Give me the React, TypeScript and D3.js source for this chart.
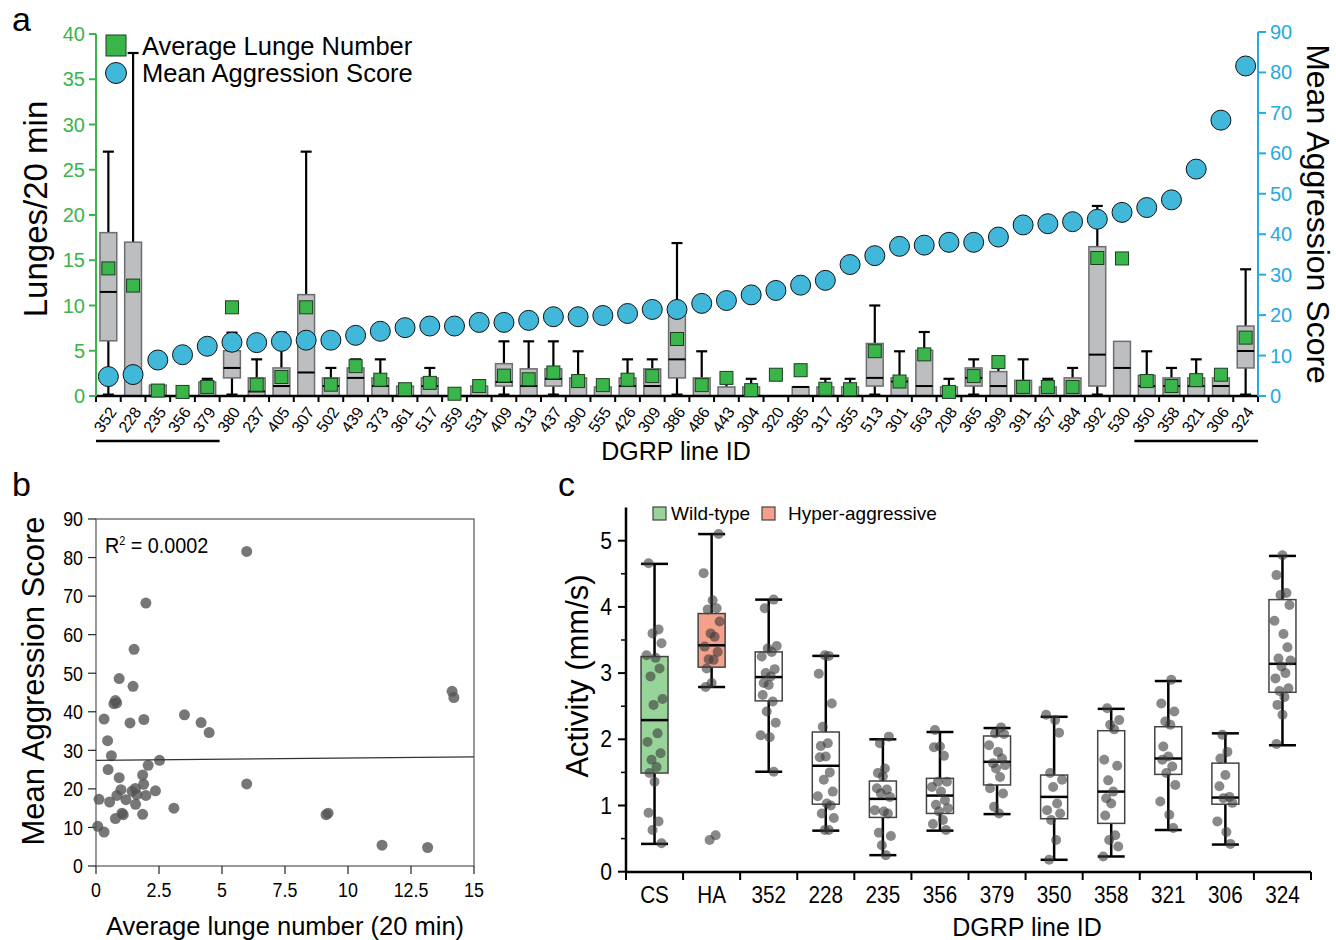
import React from 'react';
import * as d3 from 'd3';

// ---------- panel a: DGRP lines ----------
const lineIds = ['352', '228', '235', '356', '379', '380', '237', '405', '307', '502', '439', '373', '361', '517', '359', '531', '409', '313', '437', '390', '555', '426', '309', '386', '486', '443', '304', '320', '385', '317', '355', '513', '301', '563', '208', '365', '399', '391', '357', '584', '392', '530', '350', '358', '321', '306', '324'];
const avgLunge = [14.1, 12.2, 0.6, 0.45, 1.0, 9.8, 1.25, 2.1, 9.8, 1.25, 3.3, 1.8, 0.75, 1.45, 0.25, 1.1, 2.25, 1.85, 2.6, 1.65, 1.2, 1.8, 2.2, 6.3, 1.2, 2.0, 0.65, 2.35, 2.85, 0.8, 0.75, 4.95, 1.6, 4.6, 0.45, 2.2, 3.75, 1.0, 1.0, 1.0, 15.25, 15.2, 1.65, 1.1, 1.75, 2.35, 6.45];
const aggScore = [4.8, 5.3, 8.9, 10.2, 12.3, 13.3, 13.2, 13.5, 13.8, 13.8, 15.0, 16.0, 16.9, 17.3, 17.3, 18.2, 18.2, 18.7, 19.6, 19.6, 19.9, 20.4, 21.4, 21.4, 22.9, 23.6, 25.0, 26.1, 27.4, 28.6, 32.5, 34.7, 37.0, 37.3, 38.0, 38.0, 39.3, 42.3, 42.6, 43.1, 43.7, 45.4, 46.6, 48.5, 56.1, 68.2, 81.6];
const lungeMin = new Array(47).fill(0);
const lungeQ1 = [6.1, 0, 0, 0, 0, 2.0, 0, 0, 0, 0, 0, 0, 0, 0, 0, 0, 1.1, 0, 1.1, 0, 0, 0, 0, 2.0, 0, 0, 0, 0, 0, 0, 0, 1.1, 0, 0, 0, 1.1, 0, 0, 0, 0, 1.1, 0, 0, 0, 0, 0, 3.1];
const lungeMed = [11.5, 0, 0, 0, 0, 3.1, 0.5, 1.1, 2.6, 1.1, 2.0, 1.1, 0, 1.1, 0, 0, 1.55, 1.1, 1.9, 0, 0, 1.1, 1.1, 4.05, 0, 0, 0, 0, 1.0, 0, 0, 2.0, 1.6, 1.1, 0, 2.0, 1.1, 0, 0, 0, 4.57, 3.1, 1.1, 1.1, 1.1, 1.1, 4.97];
const lungeQ3 = [18.05, 17.0, 1.2, 0, 1.55, 5.0, 2.0, 3.1, 11.2, 2.0, 3.1, 2.0, 1.1, 2.0, 0, 1.1, 3.57, 3.0, 3.0, 2.0, 1.0, 2.0, 3.0, 9.76, 2.0, 1.0, 1.0, 0, 1.0, 1.0, 1.0, 5.8, 2.0, 5.05, 1.0, 3.1, 2.7, 1.73, 1.0, 2.0, 16.5, 6.04, 2.28, 2.0, 2.0, 2.0, 7.73];
const lungeMax = [27.0, 37.9, 1.2, 0, 1.9, 7.0, 4.05, 7.0, 27.0, 3.1, 4.05, 4.05, 1.1, 3.1, 0, 1.1, 6.04, 6.04, 6.04, 4.94, 1.0, 4.05, 4.05, 16.9, 4.94, 1.5, 1.9, 0, 1.0, 1.9, 1.9, 10.0, 4.94, 7.07, 1.9, 4.05, 3.1, 4.05, 1.9, 3.1, 21.0, 6.04, 4.94, 3.1, 4.05, 2.0, 14.0];
const lungeTicks = [0, 5, 10, 15, 20, 25, 30, 35, 40];
const scoreTicks = [0, 10, 20, 30, 40, 50, 60, 70, 80, 90];

// ---------- panel b: scatter ----------
const scatterLunge = [5.98, 1.98, 1.51, 0.92, 1.47, 0.77, 0.82, 0.71, 0.32, 1.90, 1.35, 3.51, 4.17, 4.49, 0.46, 0.61, 2.52, 0.48, 2.07, 0.92, 1.85, 1.89, 0.99, 1.43, 1.56, 1.62, 0.83, 1.98, 2.36, 0.12, 0.54, 1.19, 1.57, 3.09, 1.03, 1.08, 0.77, 1.85, 0.07, 0.32, 5.98, 9.13, 9.21, 11.35, 13.16, 14.13, 14.2];
const scatterScore = [81.6, 68.2, 56.2, 48.6, 46.6, 42.9, 42.3, 42.1, 38.1, 38.0, 37.1, 39.2, 37.2, 34.6, 32.5, 28.6, 27.4, 25.0, 26.1, 22.9, 23.6, 21.2, 19.8, 19.4, 20.1, 18.5, 18.3, 18.3, 19.5, 17.3, 16.6, 17.2, 16.0, 15.0, 13.7, 13.3, 12.3, 13.4, 10.3, 8.8, 21.3, 13.3, 13.7, 5.4, 4.8, 45.3, 43.7];
const fitIntercept = 27.4;
const fitSlope = 0.06;
const bXTicks = [0, 2.5, 5, 7.5, 10, 12.5, 15];
const bYTicks = [0, 10, 20, 30, 40, 50, 60, 70, 80, 90];

// ---------- panel c: activity ----------
const actGroups = ['CS', 'HA', '352', '228', '235', '356', '379', '350', '358', '321', '306', '324'];
const actFill = ['#98d49a', '#f4a08b', '#fff', '#fff', '#fff', '#fff', '#fff', '#fff', '#fff', '#fff', '#fff', '#fff'];
const actMin = [0.42, 2.79, 1.51, 0.62, 0.25, 0.62, 0.87, 0.18, 0.23, 0.63, 0.41, 1.91];
const actQ1 = [1.49, 3.09, 2.58, 1.02, 0.82, 0.88, 1.31, 0.80, 0.73, 1.47, 1.02, 2.71];
const actMed = [2.29, 3.42, 2.94, 1.60, 1.10, 1.15, 1.66, 1.13, 1.21, 1.71, 1.12, 3.14];
const actQ3 = [3.25, 3.90, 3.32, 2.11, 1.37, 1.41, 2.05, 1.46, 2.13, 2.19, 1.64, 4.11];
const actMax = [4.65, 5.10, 4.11, 3.26, 2.00, 2.11, 2.17, 2.34, 2.46, 2.88, 2.09, 4.77];
const actPoints = [
  [4.66, 3.66, 3.60, 3.45, 3.27, 3.23, 3.07, 2.95, 2.61, 2.52, 2.09, 1.96, 1.79, 1.69, 1.58, 1.49, 1.36, 0.89, 0.76, 0.63, 0.43],
  [5.10, 4.51, 4.10, 3.98, 3.96, 3.78, 3.60, 3.55, 3.40, 3.32, 3.21, 3.20, 3.07, 2.85, 2.79, 0.55, 0.48],
  [4.11, 3.98, 3.41, 3.37, 3.32, 3.25, 3.06, 3.00, 2.95, 2.85, 2.82, 2.67, 2.57, 2.42, 2.25, 2.06, 2.03, 1.51],
  [3.27, 3.26, 2.99, 2.54, 2.19, 1.94, 1.90, 1.74, 1.73, 1.50, 1.39, 1.21, 1.14, 1.03, 1.00, 0.88, 0.81, 0.63, 0.63],
  [2.04, 1.94, 1.56, 1.49, 1.44, 1.26, 1.24, 1.18, 1.13, 0.93, 0.91, 0.88, 0.59, 0.54, 0.40, 0.25],
  [2.14, 1.89, 1.88, 1.75, 1.36, 1.36, 1.28, 1.21, 1.08, 1.01, 0.96, 0.91, 0.78, 0.72, 0.63],
  [2.18, 2.09, 2.08, 1.91, 1.81, 1.71, 1.64, 1.61, 1.56, 1.43, 1.26, 1.18, 0.98, 0.88],
  [2.37, 2.29, 2.10, 1.49, 1.39, 1.28, 1.03, 0.93, 0.88, 0.78, 0.48, 0.18],
  [2.47, 2.29, 2.22, 2.15, 1.69, 1.60, 1.38, 1.21, 1.11, 1.03, 0.85, 0.55, 0.48, 0.38, 0.23],
  [2.90, 2.54, 2.42, 2.27, 2.22, 1.89, 1.74, 1.69, 1.59, 1.49, 1.31, 1.06, 0.86, 0.66],
  [2.07, 1.81, 1.71, 1.46, 1.29, 1.13, 1.11, 1.04, 0.76, 0.60, 0.42],
  [4.78, 4.48, 4.21, 4.18, 4.03, 3.79, 3.59, 3.39, 3.22, 3.19, 3.10, 3.00, 2.92, 2.77, 2.73, 2.64, 2.52, 2.37, 1.93],
];
const jitter = [-6, 4, -2, 7, -8, 1, 5, -4, 8, -1, 3, -7, 6, -3, 2, -5, 0];

const FONT = "'Liberation Sans', Arial, sans-serif";
const GREEN = '#39b54a';
const BLUE = '#27aae1';

function PanelA() {
  const x = d3.scaleBand().domain(lineIds).range([96, 1258]).padding(0);
  const yL = d3.scaleLinear().domain([0, 40]).range([396, 34]);
  const yR = d3.scaleLinear().domain([0, 90]).range([396, 32]);
  const bw = x.bandwidth();
  const boxW = bw * 0.68;
  const capW = 11;
  const cx = (id: string) => (x(id) as number) + bw / 2;
  const last = x.range()[1];

  return (
    <g fontFamily={FONT}>
      {/* boxes */}
      {lineIds.map((id, i) => {
        const c = cx(id);
        return (
          <g key={id}>
            {lungeMax[i] > lungeQ3[i] && (
              <g stroke="#000" strokeWidth={2.2}>
                <line x1={c} x2={c} y1={yL(lungeQ3[i])} y2={yL(lungeMax[i])} />
                <line x1={c - capW / 2} x2={c + capW / 2} y1={yL(lungeMax[i])} y2={yL(lungeMax[i])} />
              </g>
            )}
            <g stroke="#000" strokeWidth={2.2}>
              {lungeQ1[i] > lungeMin[i] && <line x1={c} x2={c} y1={yL(lungeQ1[i])} y2={yL(lungeMin[i])} />}
              {lungeMax[i] > 0 && <line x1={c - capW / 2} x2={c + capW / 2} y1={yL(lungeMin[i]) - 1} y2={yL(lungeMin[i]) - 1} strokeWidth={3} />}
            </g>
            {lungeQ3[i] > lungeQ1[i] && (
              <rect x={c - boxW / 2} width={boxW} y={yL(lungeQ3[i])} height={yL(lungeQ1[i]) - yL(lungeQ3[i])}
                fill="#bcbec0" stroke="#6d6e71" strokeWidth={1.5} />
            )}
            {lungeQ3[i] > lungeQ1[i] && (
              <line x1={c - boxW / 2} x2={c + boxW / 2} y1={yL(lungeMed[i])} y2={yL(lungeMed[i])} stroke="#000" strokeWidth={2} />
            )}
          </g>
        );
      })}

      {/* axes */}
      <line x1={96} x2={last} y1={396} y2={396} stroke="#000" strokeWidth={2.5} />
      {[...lineIds.map((id) => x(id) as number), last].map((t, i) => (
        <line key={i} x1={t} x2={t} y1={396} y2={402} stroke="#000" strokeWidth={2} />
      ))}
      {lineIds.map((id) => (
        <text key={id} fontSize={16} textAnchor="end" transform={`translate(${cx(id) + 9},${412}) rotate(-55)`}>{id}</text>
      ))}
      <line x1={96} x2={96} y1={yL(40)} y2={396} stroke={GREEN} strokeWidth={2} />
      {lungeTicks.map((t) => (
        <g key={t}>
          <line x1={89} x2={96} y1={yL(t)} y2={yL(t)} stroke={GREEN} strokeWidth={2} />
          <text x={85} y={yL(t)} dy="0.35em" textAnchor="end" fontSize={20} fill={GREEN}>{t}</text>
        </g>
      ))}
      <line x1={last} x2={last} y1={yR(90)} y2={396} stroke={BLUE} strokeWidth={2} />
      {scoreTicks.map((t) => (
        <g key={t}>
          <line x1={last} x2={last + 8} y1={yR(t)} y2={yR(t)} stroke={BLUE} strokeWidth={2} />
          <text x={last + 12} y={yR(t)} dy="0.35em" fontSize={20} fill={BLUE}>{t}</text>
        </g>
      ))}

      {/* group underlines */}
      <line x1={x('352')} x2={(x('379') as number) + bw} y1={441} y2={441} stroke="#000" strokeWidth={2.5} />
      <line x1={x('350')} x2={last} y1={441} y2={441} stroke="#000" strokeWidth={2.5} />

      {/* means */}
      {lineIds.map((id, i) => (
        <rect key={id} x={cx(id) - 6.5} y={yL(avgLunge[i]) - 6.5} width={13} height={13} fill={GREEN} stroke="#1d3f20" strokeWidth={1} />
      ))}
      {lineIds.map((id, i) => (
        <circle key={id} cx={cx(id)} cy={yR(aggScore[i])} r={10} fill="#41b8da" stroke="#111" strokeWidth={1} />
      ))}

      {/* titles */}
      <text transform="translate(47,209) rotate(-90)" textAnchor="middle" fontSize={33}>Lunges/20 min</text>
      <text transform="translate(1307,214) rotate(90)" textAnchor="middle" fontSize={32}>Mean Aggression Score</text>
      <text x={676} y={460} textAnchor="middle" fontSize={25}>DGRP line ID</text>

      {/* legend */}
      <rect x={106} y={35} width={20} height={21} fill={GREEN} stroke="#1d3f20" strokeWidth={1} />
      <text x={142} y={55} fontSize={25.5}>Average Lunge Number</text>
      <circle cx={116} cy={73} r={10.5} fill="#41b8da" stroke="#111" strokeWidth={1} />
      <text x={142} y={82} fontSize={25.5}>Mean Aggression Score</text>

      <text x={12} y={31} fontSize={34}>a</text>
    </g>
  );
}

function PanelB() {
  const xs = d3.scaleLinear().domain([0, 15]).range([96, 474]);
  const ys = d3.scaleLinear().domain([0, 90]).range([866, 519]);
  const fit = d3.line<number>().x((d) => xs(d)).y((d) => ys(fitIntercept + fitSlope * d));
  return (
    <g fontFamily={FONT}>
      <rect x={96} y={519} width={378} height={347} fill="none" stroke="#555" strokeWidth={1.2} />
      {bYTicks.map((t) => (
        <g key={t}>
          <line x1={88} x2={96} y1={ys(t)} y2={ys(t)} stroke="#222" strokeWidth={1.2} />
          <text transform={`translate(83,${ys(t)}) scale(0.85,1)`} dy="0.35em" textAnchor="end" fontSize={21}>{t}</text>
        </g>
      ))}
      {bXTicks.map((t) => (
        <g key={t}>
          <line x1={xs(t)} x2={xs(t)} y1={866} y2={874} stroke="#222" strokeWidth={1.2} />
          <text transform={`translate(${xs(t)},897) scale(0.85,1)`} textAnchor="middle" fontSize={21}>{t}</text>
        </g>
      ))}
      {scatterLunge.map((v, i) => (
        <circle key={i} cx={xs(v)} cy={ys(scatterScore[i])} r={5.5} fill="#555" fillOpacity={0.8} />
      ))}
      <path d={fit([0, 15]) as string} stroke="#333" strokeWidth={1.2} fill="none" />
      <text transform="translate(105,553) scale(0.9,1)" fontSize={22}>R<tspan dy={-8} fontSize={12}>2</tspan><tspan dy={8}> = 0.0002</tspan></text>
      <text transform="translate(44,681) rotate(-90)" textAnchor="middle" fontSize={31}>Mean Aggression Score</text>
      <text x={285} y={935} textAnchor="middle" fontSize={25.5}>Average lunge number (20 min)</text>
      <text x={12} y={496} fontSize={34}>b</text>
    </g>
  );
}

function PanelC() {
  const x = d3.scaleBand().domain(actGroups).range([626, 1311]).padding(0);
  const y = d3.scaleLinear().domain([0, 5.5]).range([871.7, 507.6]);
  const bw = x.bandwidth();
  const boxW = 27;
  const majors = [0, 1, 2, 3, 4, 5];
  const minors = [0.5, 1.5, 2.5, 3.5, 4.5];
  return (
    <g fontFamily={FONT}>
      {actGroups.map((g, i) => {
        const c = (x(g) as number) + bw / 2;
        return (
          <g key={g}>
            <g stroke="#000" strokeWidth={2.5}>
              <line x1={c} x2={c} y1={y(actMax[i])} y2={y(actMin[i])} />
              <line x1={c - boxW / 2} x2={c + boxW / 2} y1={y(actMax[i])} y2={y(actMax[i])} />
              <line x1={c - boxW / 2} x2={c + boxW / 2} y1={y(actMin[i])} y2={y(actMin[i])} />
            </g>
            <rect x={c - boxW / 2} width={boxW} y={y(actQ3[i])} height={y(actQ1[i]) - y(actQ3[i])}
              fill={actFill[i]} stroke="#444" strokeWidth={1.5} />
            <line x1={c - boxW / 2} x2={c + boxW / 2} y1={y(actMed[i])} y2={y(actMed[i])} stroke="#000" strokeWidth={2.5} />
            {actPoints[i].map((v, k) => (
              <circle key={k} cx={c + jitter[(k + i * 3) % jitter.length]} cy={y(v)} r={5} fill="#3a3a3a" fillOpacity={0.6} />
            ))}
          </g>
        );
      })}
      <line x1={626} x2={626} y1={y(5.5)} y2={872} stroke="#000" strokeWidth={2.5} />
      <line x1={626} x2={1311} y1={872} y2={872} stroke="#000" strokeWidth={2.5} />
      {majors.map((t) => (
        <g key={t}>
          <line x1={618} x2={626} y1={y(t)} y2={y(t)} stroke="#000" strokeWidth={2} />
          <text transform={`translate(612,${y(t)}) scale(0.92,1)`} dy="0.35em" textAnchor="end" fontSize={23}>{t}</text>
        </g>
      ))}
      {minors.map((t) => (
        <line key={t} x1={621} x2={626} y1={y(t)} y2={y(t)} stroke="#000" strokeWidth={1.5} />
      ))}
      {[...actGroups.map((g) => x(g) as number), 1311].map((t, i) => (
        <line key={i} x1={t} x2={t} y1={872} y2={880} stroke="#000" strokeWidth={2} />
      ))}
      {actGroups.map((g) => (
        <text key={g} transform={`translate(${(x(g) as number) + bw / 2},903) scale(0.9,1)`} textAnchor="middle" fontSize={23}>{g}</text>
      ))}
      <text transform="translate(588,676) rotate(-90)" textAnchor="middle" fontSize={31}>Activity (mm/s)</text>
      <text x={1027} y={936} textAnchor="middle" fontSize={25}>DGRP line ID</text>

      <rect x={653} y={507} width={13} height={13} fill={actFill[0]} stroke="#444" strokeWidth={1.2} />
      <text x={671} y={520} fontSize={19}>Wild-type</text>
      <rect x={762} y={507} width={13} height={13} fill={actFill[1]} stroke="#444" strokeWidth={1.2} />
      <text x={788} y={520} fontSize={19}>Hyper-aggressive</text>
      <text x={558} y={496} fontSize={34}>c</text>
    </g>
  );
}

export default function App() {
  return (
    <svg width={1336} height={940} style={{ position: 'absolute', left: 0, top: 0, background: '#fff' }}>
      <PanelA />
      <PanelB />
      <PanelC />
    </svg>
  );
}
